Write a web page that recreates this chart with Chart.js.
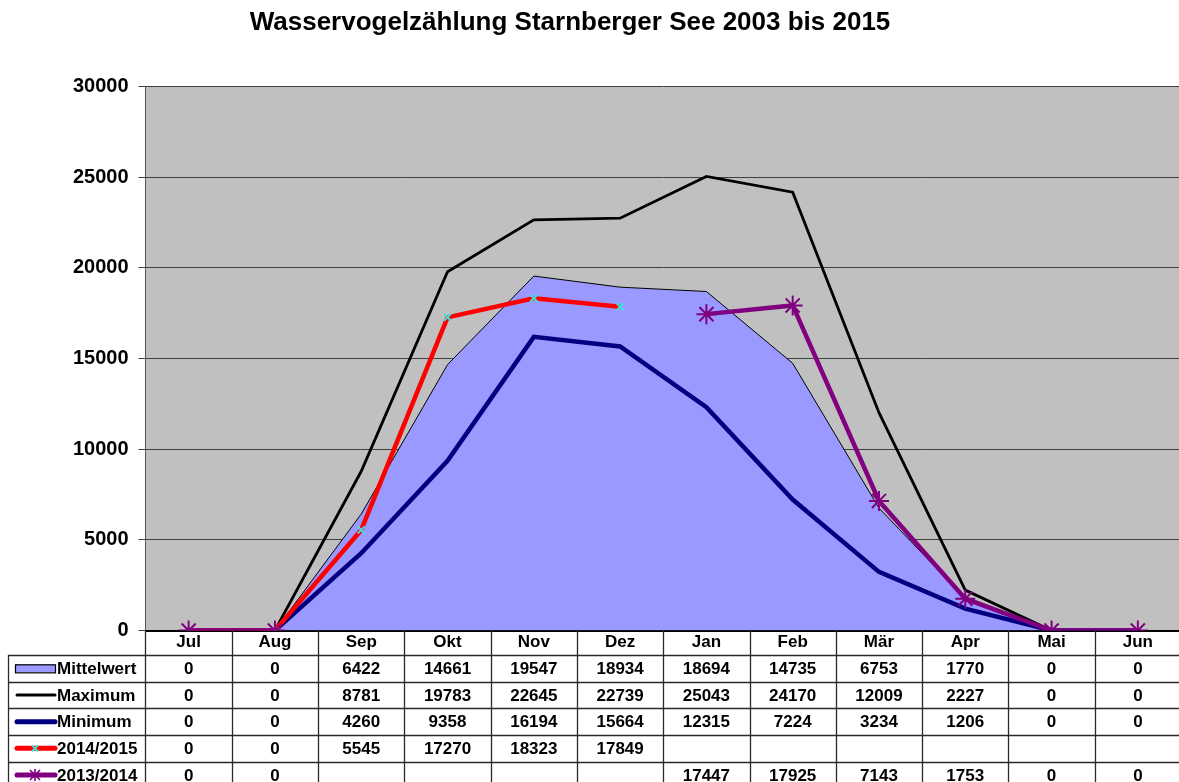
<!DOCTYPE html>
<html><head><meta charset="utf-8">
<script src="https://cdn.jsdelivr.net/npm/chart.js@4/dist/chart.umd.min.js"></script>
<style>html,body{margin:0;padding:0;background:#fff;overflow:hidden;width:1179px;height:782px}canvas{display:block}</style>
</head><body>
<canvas id="c" width="1193" height="782"></canvas>
<script>
const TITLE = 'Wasservogelzählung Starnberger See 2003 bis 2015';
const months = ['Jul','Aug','Sep','Okt','Nov','Dez','Jan','Feb','Mär','Apr','Mai','Jun'];
const seriesNames = ['Mittelwert','Maximum','Minimum','2014/2015','2013/2014'];
const yMin = 0, yMax = 30000, yStep = 5000;
const mittelwert = [0,0,6422,14661,19547,18934,18694,14735,6753,1770,0,0];
const maximum    = [0,0,8781,19783,22645,22739,25043,24170,12009,2227,0,0];
const minimum    = [0,0,4260,9358,16194,15664,12315,7224,3234,1206,0,0];
const s1415      = [0,0,5545,17270,18323,17849,null,null,null,null,null,null];
const s1314      = [0,0,null,null,null,null,17447,17925,7143,1753,0,0];

const FONT = 'Liberation Sans, Arial, sans-serif';
Chart.defaults.font.family = FONT;
Chart.defaults.color = '#000';

const COLORS = {
  area: '#9999FF', max: '#000000', min: '#000080', red: '#FF0000', cyan: '#40E0E0', purple: '#800080', plot: '#C0C0C0'
};

const bgPlugin = {
  id: 'bg',
  beforeDraw(chart) {
    const {ctx, chartArea: a} = chart;
    ctx.save();
    ctx.fillStyle = COLORS.plot;
    ctx.fillRect(a.left, a.top, a.right - a.left, a.bottom - a.top);
    ctx.restore();
  }
};

const titlePlugin = {
  id: 'customTitle',
  afterDraw(chart) {
    const ctx = chart.ctx;
    ctx.save();
    ctx.font = 'bold 26px ' + FONT;
    ctx.fillStyle = '#000';
    ctx.textAlign = 'center';
    ctx.textBaseline = 'middle';
    ctx.fillText(TITLE, 570, 23);
    ctx.restore();
  }
};

const tablePlugin = {
  id: 'dataTable',
  afterDraw(chart) {
    const {ctx, chartArea: a} = chart;
    const xs = chart.scales.x;
    const w = xs.getPixelForValue(1) - xs.getPixelForValue(0);
    const headTop = a.bottom;
    const rowTop0 = 655;
    const rowH = 26.67;
    const legendLeft = 8;
    const nRows = seriesNames.length;
    const tableBottom = rowTop0 + rowH * nRows;
    ctx.save();
    ctx.strokeStyle = '#2a2a2a';
    ctx.lineWidth = 1.3;
    for (let i = 0; i <= months.length; i++) {
      const x = Math.round(xs.getPixelForValue(i) - w / 2) + 0.5;
      ctx.beginPath(); ctx.moveTo(x, headTop); ctx.lineTo(x, tableBottom); ctx.stroke();
    }
    ctx.beginPath(); ctx.moveTo(legendLeft + 0.5, rowTop0); ctx.lineTo(legendLeft + 0.5, tableBottom); ctx.stroke();
    for (let r = 0; r <= nRows; r++) {
      const y = Math.round(rowTop0 + r * rowH) + 0.5;
      ctx.beginPath(); ctx.moveTo(legendLeft, y); ctx.lineTo(a.right, y); ctx.stroke();
    }
    ctx.font = 'bold 17px ' + FONT;
    ctx.fillStyle = '#000';
    ctx.textBaseline = 'middle';
    chart.data.datasets.forEach((ds, r) => {
      const cy = rowTop0 + r * rowH + rowH / 2 + 1;
      ctx.textAlign = 'center';
      ds.data.forEach((v, i) => {
        if (v === null || v === undefined) return;
        ctx.fillText(String(v), xs.getPixelForValue(i), cy);
      });
      ctx.textAlign = 'left';
      ctx.fillText(ds.label, 57, cy);
      const kx0 = 15, kx1 = 55, kcy = cy - 1;
      if (r === 0) {
        ctx.fillStyle = COLORS.area;
        ctx.fillRect(kx0, kcy - 4, kx1 - kx0, 8);
        ctx.lineWidth = 1.2; ctx.strokeStyle = '#000';
        ctx.strokeRect(kx0 + 0.5, kcy - 4 + 0.5, kx1 - kx0, 8);
        ctx.fillStyle = '#000';
      } else {
        ctx.lineCap = 'round';
        ctx.strokeStyle = ds.borderColor;
        ctx.lineWidth = r === 1 ? 3 : 5;
        ctx.beginPath(); ctx.moveTo(kx0 + 2, kcy); ctx.lineTo(kx1, kcy); ctx.stroke();
        ctx.lineCap = 'butt';
        const mx = (kx0 + kx1) / 2;
        if (r === 3) {
          ctx.strokeStyle = COLORS.cyan; ctx.lineWidth = 2;
          ctx.beginPath(); ctx.moveTo(mx - 3, kcy - 3); ctx.lineTo(mx + 3, kcy + 3);
          ctx.moveTo(mx - 3, kcy + 3); ctx.lineTo(mx + 3, kcy - 3); ctx.stroke();
        } else if (r === 4) {
          ctx.strokeStyle = COLORS.purple; ctx.lineWidth = 1.6;
          ctx.beginPath(); ctx.moveTo(mx - 5, kcy - 5); ctx.lineTo(mx + 5, kcy + 5);
          ctx.moveTo(mx - 5, kcy + 5); ctx.lineTo(mx + 5, kcy - 5);
          ctx.moveTo(mx, kcy - 6); ctx.lineTo(mx, kcy + 6); ctx.stroke();
        }
        ctx.fillStyle = '#000';
      }
    });
    ctx.restore();
  }
};

new Chart(document.getElementById('c'), {
  type: 'line',
  data: {
    labels: months,
    datasets: [
      { label: seriesNames[0], data: mittelwert, order: 5, fill: 'origin', backgroundColor: COLORS.area,
        borderColor: '#000', borderWidth: 1, pointRadius: 0, tension: 0 },
      { label: seriesNames[1], data: maximum, order: 4, fill: false, borderColor: COLORS.max,
        borderWidth: 2.8, pointRadius: 0, tension: 0 },
      { label: seriesNames[2], data: minimum, order: 3, fill: false, borderColor: COLORS.min,
        borderWidth: 4.5, pointRadius: 0, tension: 0 },
      { label: seriesNames[3], data: s1415, order: 2, fill: false, borderColor: COLORS.red,
        borderWidth: 4.5, pointStyle: 'crossRot', pointRadius: 5, pointBorderColor: COLORS.cyan,
        pointBorderWidth: 2, pointBackgroundColor: COLORS.cyan, tension: 0, spanGaps: false },
      { label: seriesNames[4], data: s1314, order: 1, fill: false, borderColor: COLORS.purple,
        borderWidth: 4.5, pointStyle: 'star', pointRadius: 10, pointBorderColor: COLORS.purple,
        pointBorderWidth: 2, pointBackgroundColor: COLORS.purple, tension: 0, spanGaps: false }
    ]
  },
  options: {
    responsive: false,
    animation: false,
    devicePixelRatio: 1,
    layout: { padding: { top: 86.5, left: 0, right: 0, bottom: 0 } },
    plugins: { legend: { display: false }, tooltip: { enabled: false }, title: { display: false } },
    scales: {
      x: {
        offset: true,
        grid: { display: false, drawTicks: false },
        border: { display: true, color: '#000', width: 2 },
        ticks: { font: { size: 17, weight: 'bold' }, color: '#000', padding: 2, autoSkip: false, maxRotation: 0 },
        afterFit(s) { s.height = 151.5; }
      },
      y: {
        min: yMin, max: yMax,
        grid: { color: '#404040', lineWidth: 1, tickLength: 7, drawTicks: true },
        border: { display: true, color: '#555', width: 1 },
        ticks: { stepSize: yStep, font: { size: 20, weight: 'bold' }, color: '#000', padding: 10,
                 callback: v => String(v) },
        afterFit(s) { s.width = 145.5; }
      }
    }
  },
  plugins: [bgPlugin, tablePlugin, titlePlugin]
});
</script>
</body></html>
